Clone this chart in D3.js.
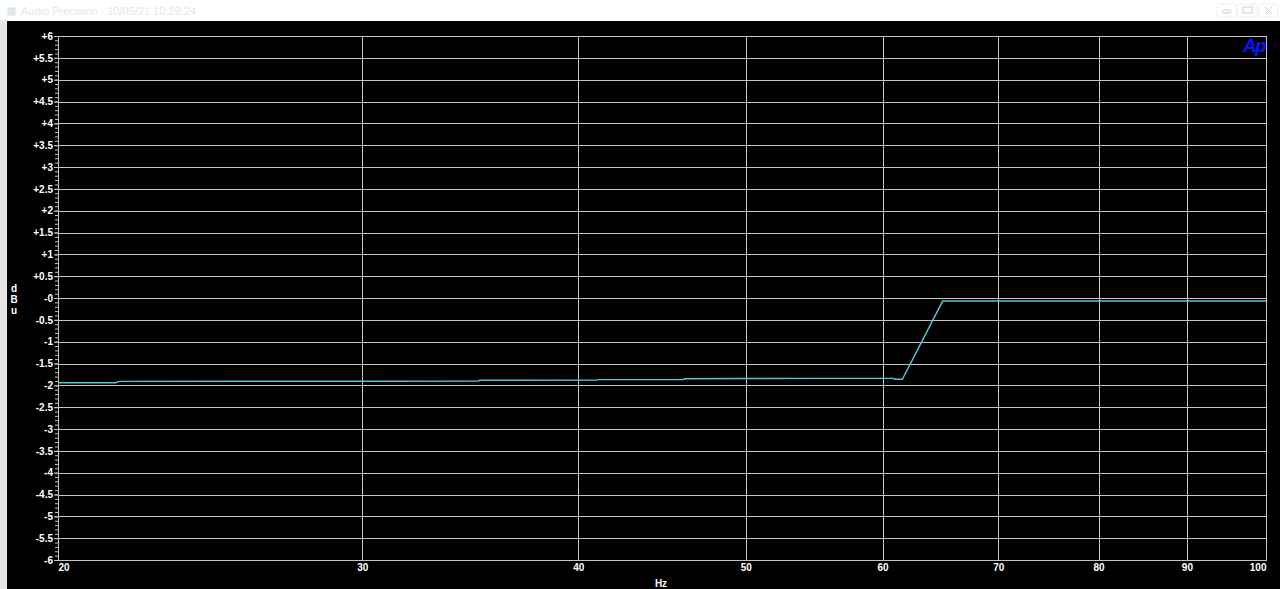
<!DOCTYPE html>
<html><head><meta charset="utf-8">
<script src="https://cdn.jsdelivr.net/npm/d3@7"></script>
<style>html,body{margin:0;padding:0;background:#fff;overflow:hidden}svg{display:block}</style>
</head><body>
<svg id="c" width="1280" height="589"></svg>
<script>
// Data
const freqs = [20, 21.6, 21.7, 30, 35, 35.1, 41, 41.1, 46, 46.1, 50, 55, 60.8, 61.0, 61.6, 65.0, 100];
const dbu   = [-1.94, -1.94, -1.91, -1.905, -1.90, -1.885, -1.88, -1.87, -1.865, -1.85, -1.845, -1.84, -1.84, -1.86, -1.86, -0.07, -0.07];
const xTicks = [20, 30, 40, 50, 60, 70, 80, 90, 100];
const yTicks = [6,5.5,5,4.5,4,3.5,3,2.5,2,1.5,1,0.5,0,-0.5,-1,-1.5,-2,-2.5,-3,-3.5,-4,-4.5,-5,-5.5,-6];
const yLabels = ["+6","+5.5","+5","+4.5","+4","+3.5","+3","+2.5","+2","+1.5","+1","+0.5","-0","-0.5","-1","-1.5","-2","-2.5","-3","-3.5","-4","-4.5","-5","-5.5","-6"];
const title = "Audio Precision  -  10/05/21 10:29:24";

const svg = d3.select("#c");
// window chrome
svg.append("rect").attr("x",0).attr("y",0).attr("width",1280).attr("height",589).attr("fill","#ffffff");
svg.append("rect").attr("x",0).attr("y",20).attr("width",7).attr("height",569).attr("fill","#e6e6e6");
svg.append("rect").attr("x",7).attr("y",21).attr("width",1273).attr("height",568).attr("fill","#000");
svg.append("rect").attr("x",8).attr("y",8).attr("width",7).attr("height",7).attr("fill","#d6eeee").attr("stroke","#e0e0e0");
svg.append("text").attr("x",21).attr("y",15).attr("font-family","Liberation Sans, Arial").attr("font-size",11).attr("fill","#e6e6e6").text(title);
[[1217,"min"],[1238,"max"],[1259,"close"]].forEach(([bx,k])=>{
  svg.append("rect").attr("x",bx).attr("y",4).attr("width",19).attr("height",13).attr("rx",2).attr("fill","#fff").attr("stroke","#eeeeee");
  const g = svg.append("g").attr("stroke","#cfcfcf").attr("fill","none");
  if(k==="min") g.append("rect").attr("x",bx+5).attr("y",10).attr("width",9).attr("height",3).attr("rx",1.5);
  if(k==="max") g.append("rect").attr("x",bx+5).attr("y",7).attr("width",9).attr("height",6);
  if(k==="close"){g.append("path").attr("d",`M${bx+6},7 l7,7 M${bx+13},7 l-7,7`);}
});

const L=58, R=1266, T=36, B=560;
const x = d3.scaleLog().domain([20,100]).range([L,R]);
const y = d3.scaleLinear().domain([-6,6]).range([B,T]);

// grid
const grid = svg.append("g").attr("stroke","#c4c4c4").attr("stroke-width",1).attr("shape-rendering","crispEdges");
yTicks.forEach(v=>grid.append("line").attr("x1",L).attr("x2",R).attr("y1",Math.round(y(v))+0.5).attr("y2",Math.round(y(v))+0.5));
xTicks.forEach(v=>grid.append("line").attr("x1",Math.round(x(v))+0.5).attr("x2",Math.round(x(v))+0.5).attr("y1",T).attr("y2",B));

// y axis with minor ticks
const minor = d3.range(-60,61).map(d=>d/10);
const yAxisMinor = d3.axisLeft(y).tickValues(minor).tickSize(3).tickFormat("");
const gm = svg.append("g").attr("transform",`translate(${L},0)`).call(yAxisMinor);
gm.selectAll("line").attr("stroke","#c4c4c4");
gm.select(".domain").remove();
const yAxis = d3.axisLeft(y).tickValues(yTicks).tickSize(4).tickPadding(1).tickFormat((d,i)=>yLabels[i]);
const gy = svg.append("g").attr("transform",`translate(${L},0)`).call(yAxis);
gy.select(".domain").attr("stroke","#c4c4c4");
gy.selectAll("line").attr("stroke","#c4c4c4");
gy.selectAll("text").attr("fill","#fff").attr("font-family","Liberation Sans, Arial").attr("font-size",10).attr("font-weight","bold");

// x axis
const xAxis = d3.axisBottom(x).tickValues(xTicks).tickSize(0).tickPadding(4).tickFormat(d3.format("d"));
const gx = svg.append("g").attr("transform",`translate(0,${B})`).call(xAxis);
gx.select(".domain").attr("stroke","#c4c4c4");
gx.selectAll("text").attr("fill","#fff").attr("font-family","Liberation Sans, Arial").attr("font-size",10).attr("font-weight","bold")
  .attr("text-anchor",d=>d===20?"start":(d===100?"end":"middle"));

// frame
svg.append("rect").attr("x",L+0.5).attr("y",T+0.5).attr("width",R-L).attr("height",B-T).attr("fill","none").attr("stroke","#c4c4c4").attr("shape-rendering","crispEdges");

// axis titles
svg.append("text").attr("x",661).attr("y",587).attr("text-anchor","middle").attr("fill","#fff").attr("font-family","Liberation Sans, Arial").attr("font-size",10).attr("font-weight","bold").text("Hz");
["d","B","u"].forEach((c,i)=>svg.append("text").attr("x",14).attr("y",292+i*11).attr("text-anchor","middle").attr("fill","#fff").attr("font-family","Liberation Sans, Arial").attr("font-size",10).attr("font-weight","bold").text(c));

// Ap logo
svg.append("text").attr("x",1265).attr("y",52).attr("text-anchor","end").attr("fill","#0a14ff").attr("font-family","Liberation Sans, Arial").attr("font-size",19).attr("font-weight","bold").attr("font-style","italic").attr("letter-spacing",-1.5).text("Ap");

// trace
const data = freqs.map((f,i)=>({f, v:dbu[i]}));
const line = d3.line().x(d=>x(d.f)).y(d=>y(d.v));
svg.append("path").datum(data).attr("d",line).attr("fill","none").attr("stroke","#52cbd6").attr("stroke-width",1.4);
</script>
</body></html>
